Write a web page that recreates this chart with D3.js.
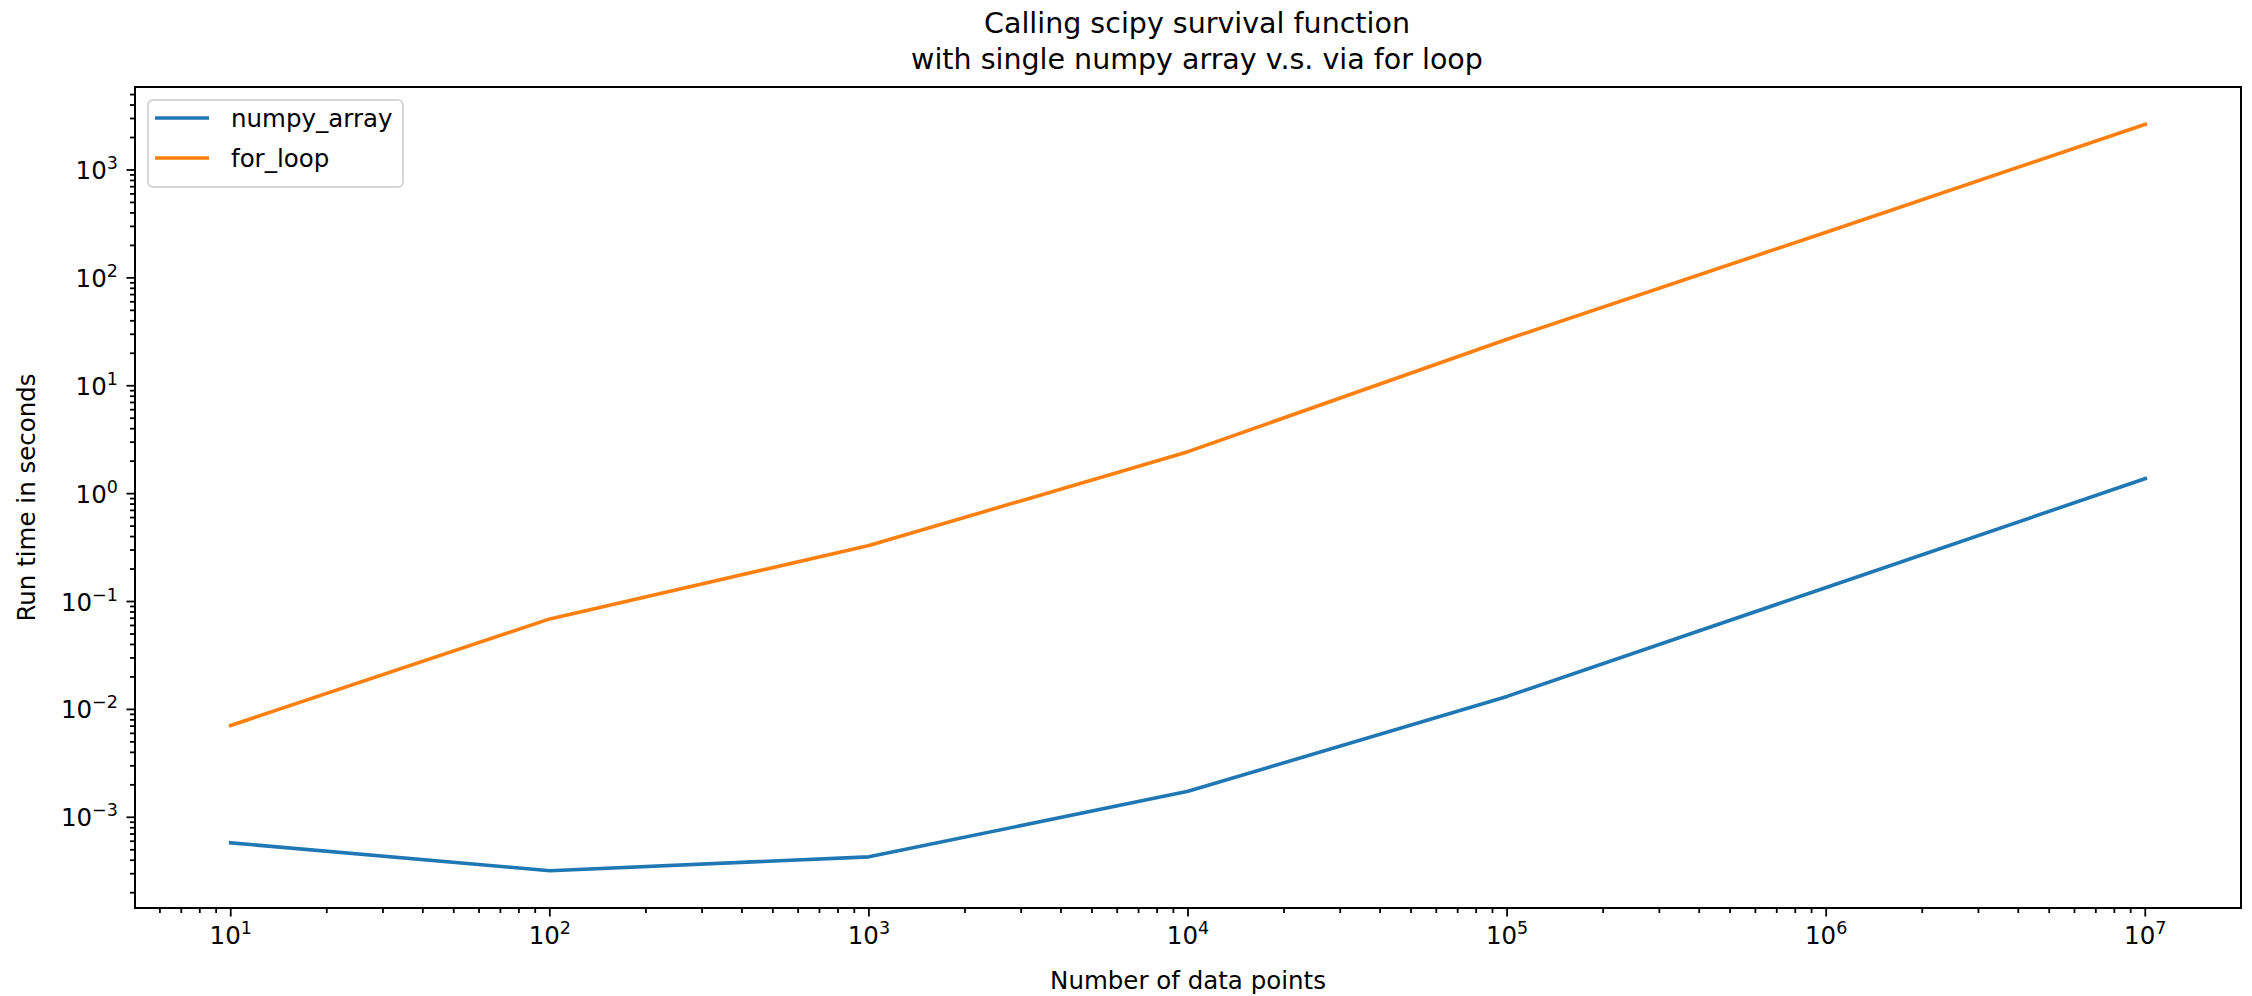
<!DOCTYPE html>
<html>
<head>
<meta charset="utf-8">
<script src="https://cdn.jsdelivr.net/npm/d3@7"></script>
<style>
  html, body { margin: 0; padding: 0; background: #fff; }
  svg { display: block; }
  text { font-family: "DejaVu Sans", sans-serif; fill: #000; }
</style>
</head>
<body>
<svg id="chart" width="2252" height="996"></svg>
<script>
// ---- data ----
const nPoints    = [1e1, 1e2, 1e3, 1e4, 1e5, 1e6, 1e7];
const numpyArray = [5.8e-4, 3.2e-4, 4.3e-4, 1.74e-3, 1.32e-2, 0.135, 1.38];
const forLoop    = [7.1e-3, 6.9e-2, 0.33, 2.45, 27, 265, 2650];
const seriesNames = ["numpy_array", "for_loop"];
const seriesColors = ["#1f77b4", "#ff7f0e"];
const titleLines = ["Calling scipy survival function", "with single numpy array v.s. via for loop"];
const xLabel = "Number of data points";
const yLabel = "Run time in seconds";

// ---- layout ----
const L = 135, R = 2241, T = 87, B = 908;
const svg = d3.select("#chart");

function logDomain(vals) {
  const lo = Math.log10(d3.min(vals)), hi = Math.log10(d3.max(vals));
  const m = (hi - lo) * 0.05;
  return [Math.pow(10, lo - m), Math.pow(10, hi + m)];
}
const x = d3.scaleLog().domain(logDomain(nPoints)).range([L, R]);
const y = d3.scaleLog().domain(logDomain(numpyArray.concat(forLoop))).range([B, T]);

const isMajor = v => Math.abs(Math.log10(v) - Math.round(Math.log10(v))) < 1e-9;
const MAJ = 8.5, MIN = 5, PAD = 8.6;
const fs = 24.5;

function expLabel(sel, v) {
  const e = Math.round(Math.log10(v));
  sel.append("tspan").text("10");
  sel.append("tspan").attr("dy", -10).attr("font-size", 17.5)
     .text(e < 0 ? "\u2212" + (-e) : String(e));
}

// clip
svg.append("defs").append("clipPath").attr("id", "clip")
  .append("rect").attr("x", L).attr("y", T).attr("width", R - L).attr("height", B - T);

// ---- lines ----
const line = d3.line().x((d, i) => x(nPoints[i])).y(d => y(d));
[numpyArray, forLoop].forEach((s, k) => {
  svg.append("path").datum(s)
    .attr("d", line)
    .attr("fill", "none")
    .attr("stroke", seriesColors[k])
    .attr("stroke-width", 3.6)
    .attr("stroke-linejoin", "round")
    .attr("stroke-linecap", "square")
    .attr("clip-path", "url(#clip)");
});

// ---- ticks ----
const xt = x.ticks().filter(v => x(v) >= L - 0.5 && x(v) <= R + 0.5);
const yt = y.ticks().filter(v => y(v) >= T - 0.5 && y(v) <= B + 0.5);

const g = svg.append("g").attr("stroke", "#000").attr("stroke-width", 1.8);
xt.forEach(v => {
  g.append("line").attr("x1", x(v)).attr("x2", x(v))
    .attr("y1", B).attr("y2", B + (isMajor(v) ? MAJ : MIN));
});
yt.forEach(v => {
  g.append("line").attr("y1", y(v)).attr("y2", y(v))
    .attr("x1", L).attr("x2", L - (isMajor(v) ? MAJ : MIN));
});

xt.filter(isMajor).forEach(v => {
  const t = svg.append("text").attr("x", x(v)).attr("y", B + MAJ + PAD + 18.5)
    .attr("text-anchor", "middle").attr("font-size", fs);
  expLabel(t, v);
});
yt.filter(isMajor).forEach(v => {
  const t = svg.append("text").attr("x", L - MAJ - PAD).attr("y", y(v) + 9)
    .attr("text-anchor", "end").attr("font-size", fs);
  expLabel(t, v);
});

// ---- frame ----
svg.append("rect").attr("x", L).attr("y", T).attr("width", R - L).attr("height", B - T)
  .attr("fill", "none").attr("stroke", "#000").attr("stroke-width", 2);

// ---- labels ----
svg.append("text").attr("x", (L + R) / 2).attr("y", 989)
  .attr("text-anchor", "middle").attr("font-size", fs).text(xLabel);
svg.append("text").attr("transform", `translate(35,${(T + B) / 2}) rotate(-90)`)
  .attr("text-anchor", "middle").attr("font-size", fs).text(yLabel);

titleLines.forEach((s, i) => {
  svg.append("text").attr("x", 1197).attr("y", 33 + i * 36)
    .attr("text-anchor", "middle").attr("font-size", 28.5).text(s);
});

// ---- legend ----
const lg = svg.append("g");
lg.append("rect").attr("x", 148).attr("y", 100).attr("width", 255).attr("height", 87)
  .attr("rx", 5).attr("fill", "#fff").attr("fill-opacity", 0.8)
  .attr("stroke", "#d6d6d6").attr("stroke-width", 2);
seriesNames.forEach((nm, i) => {
  const yy = 118 + i * 40;
  lg.append("line").attr("x1", 155).attr("x2", 209).attr("y1", yy).attr("y2", yy)
    .attr("stroke", seriesColors[i]).attr("stroke-width", 3.6);
  lg.append("text").attr("x", 231).attr("y", yy + 8.5).attr("font-size", fs).text(nm);
});
</script>
</body>
</html>
